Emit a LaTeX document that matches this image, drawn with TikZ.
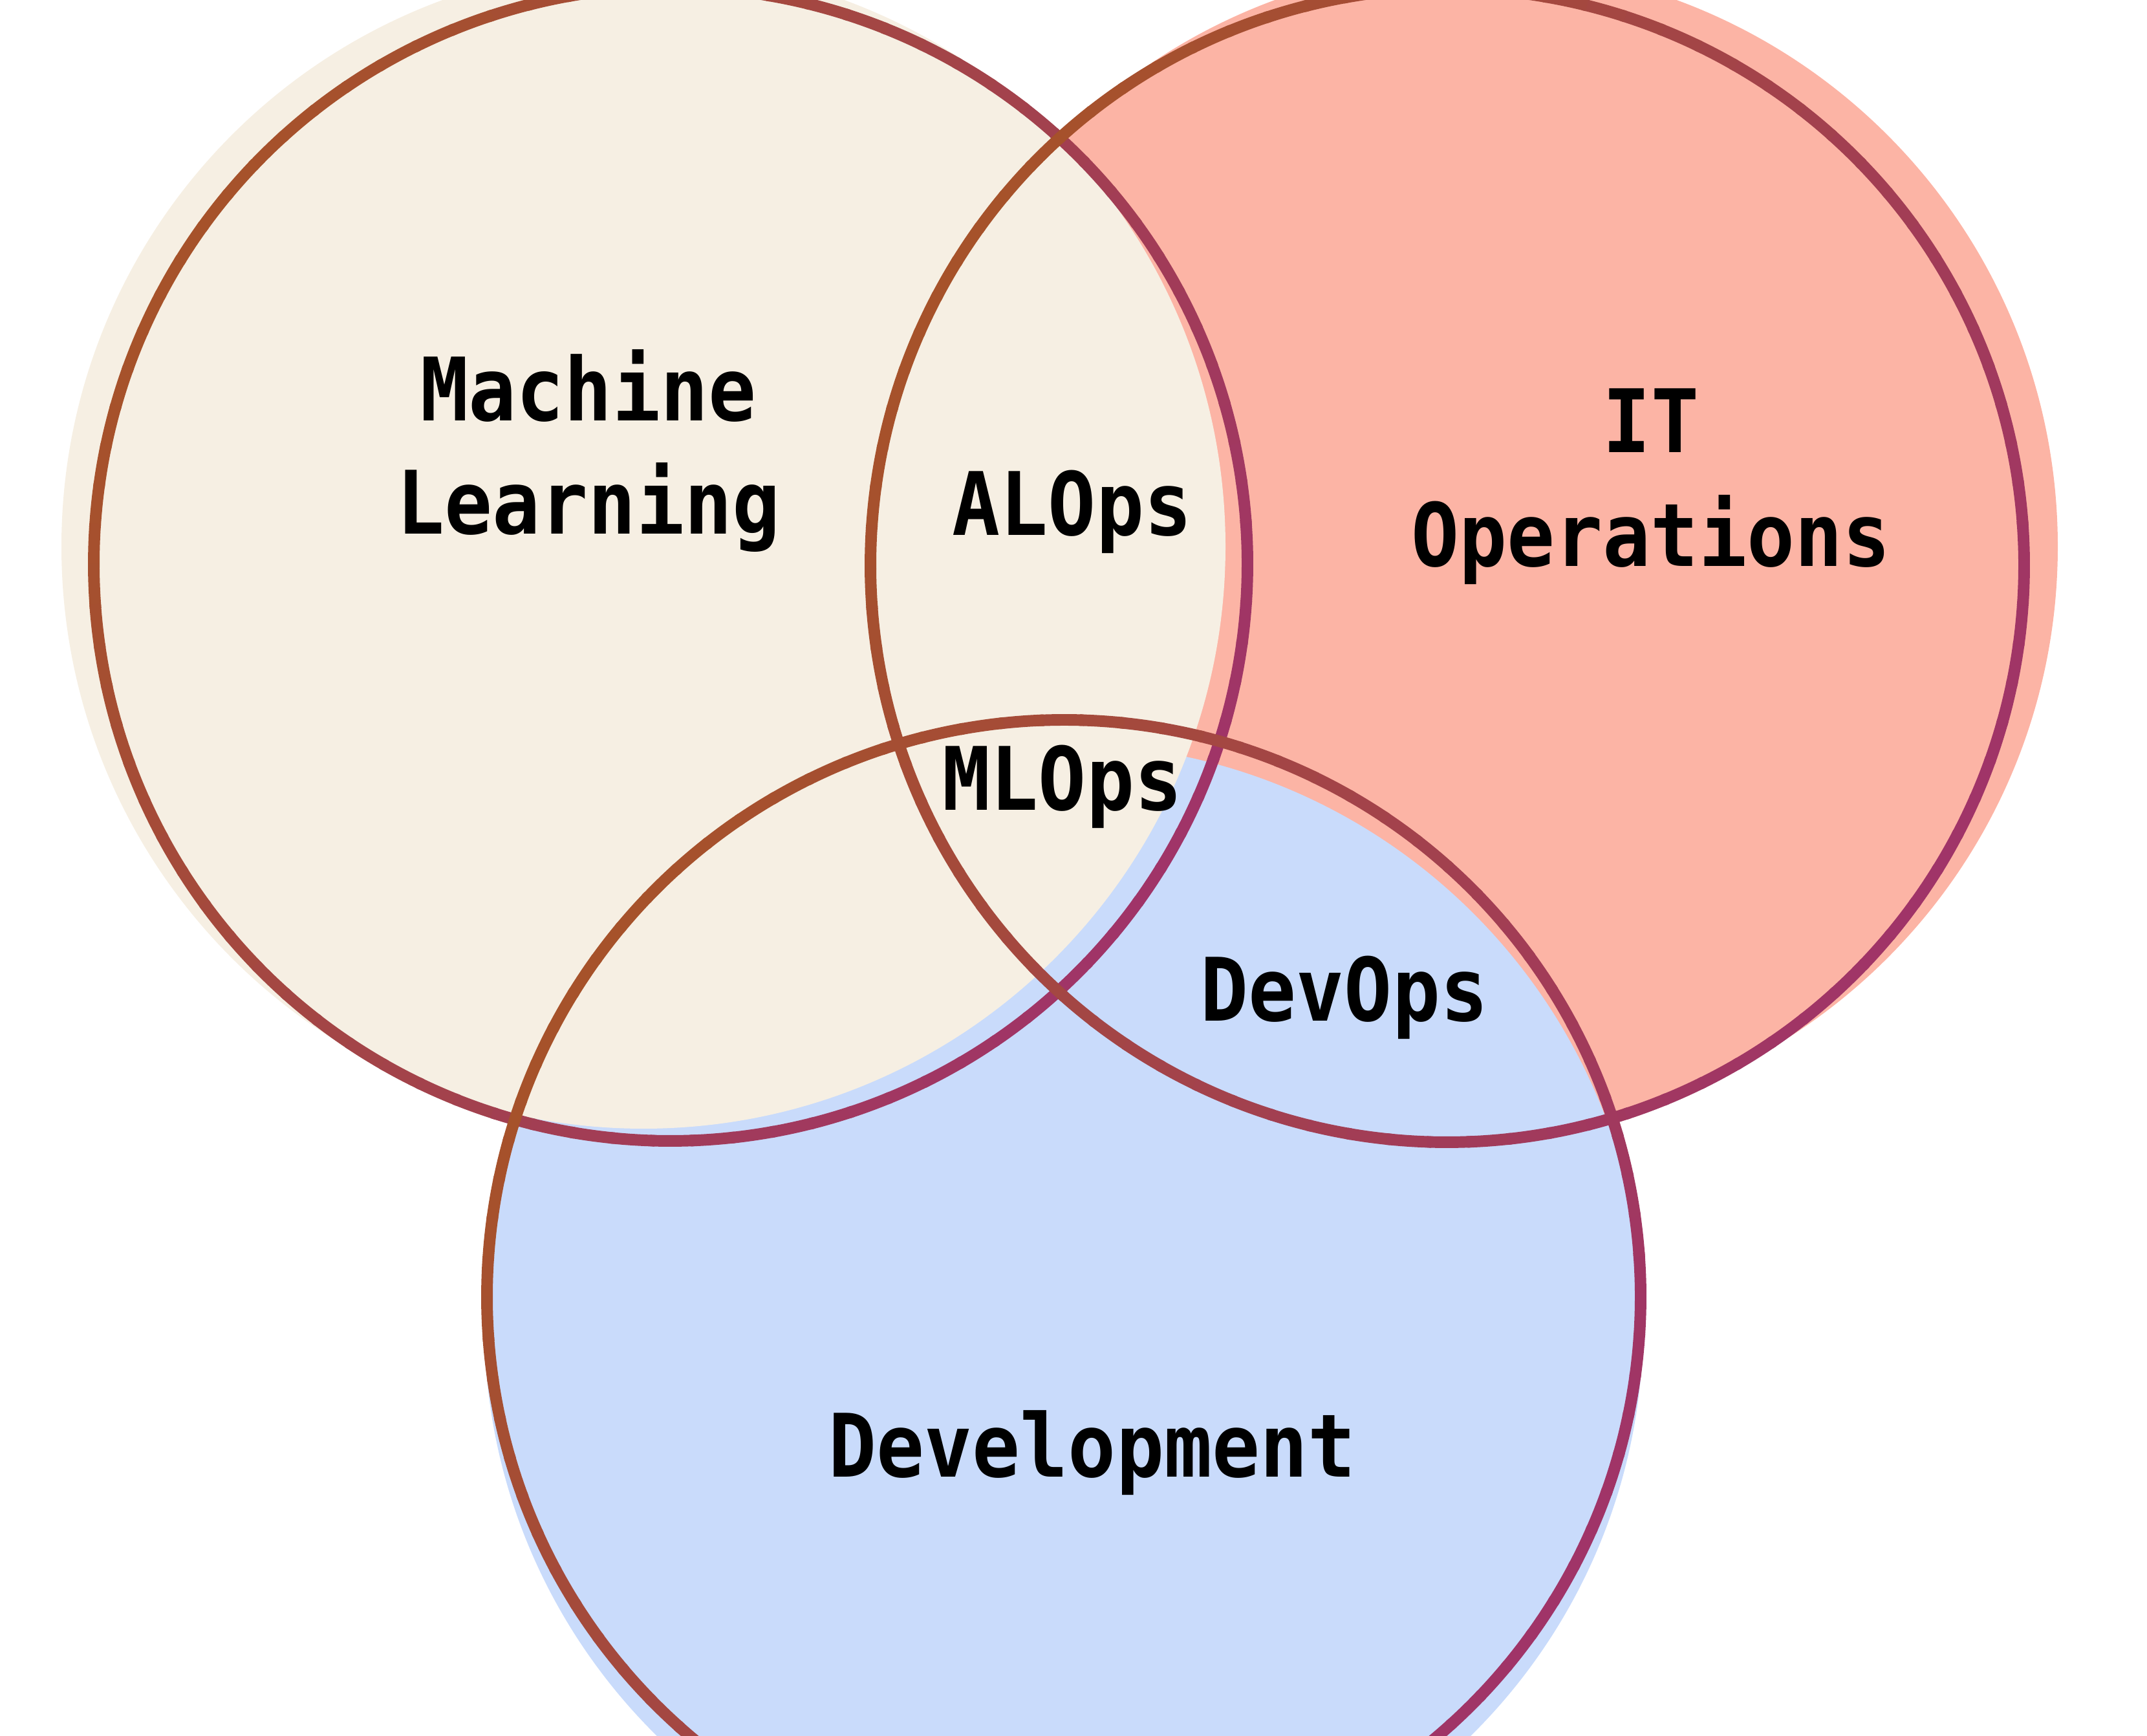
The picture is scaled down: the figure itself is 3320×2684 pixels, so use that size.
\documentclass[tikz,border=0pt]{standalone}
\usepackage{fontspec}
\setmonofont{DejaVu Sans Mono}

\definecolor{mlfill}{HTML}{F6EFE3}
\definecolor{itfill}{HTML}{FCB4A5}
\definecolor{devfill}{HTML}{C9DBFB}
\definecolor{rimbrown}{HTML}{A6522A}
\definecolor{rimplum}{HTML}{A03468}
\newcommand{\tallword}[1]{\scalebox{1}[1.1]{#1}}

\begin{document}
\begin{tikzpicture}[x=0.01cm, y=0.01cm,
    lbl/.style={inner sep=0pt, align=center, font=\fontsize{35}{50}\selectfont\ttfamily\bfseries},
    rim/.style={line width=5.1pt}]
    \useasboundingbox (0,0) rectangle (3320,2684);
    \clip (0,0) rectangle (3320,2684);
    % discs, a bit off the rims
    \fill[itfill] (2282,1839) circle[radius=900];
    \fill[devfill] (1645,638) circle[radius=896];
    \fill[mlfill] (995,1839) circle[radius=900];
    % rims, brown at top left to plum at bottom right
    \coordinate (ml) at (1037,1812);
    \coordinate (it) at (2238,1810);
    \coordinate (dev) at (1645,679);
    \foreach \c in {ml,it,dev}
      \foreach \a in {0,4,...,356} {
        \pgfmathsetmacro\t{50+50*cos(\a+2-150)}
        \draw[rim, rimbrown!\t!rimplum] (\c) ++(\a:892) arc[start angle=\a, delta angle=4.4, radius=892];
      }
    \node[lbl] (ml label) at (910,1987) {\tallword{Machine}\\\tallword{Learning}};
    \node[lbl] (it label) at (2553,1932) {\tallword{IT}\\\tallword{Operations}};
    \node[lbl, anchor=base] (al label) at (1658,1856) {\tallword{ALOps}};
    \node[lbl, anchor=base] (mlops label) at (1643,1431) {\tallword{MLOps}};
    \node[lbl, anchor=base] (devops label) at (2079,1105) {\tallword{DevOps}};
    \node[lbl, anchor=base] (dev label) at (1689,400) {\tallword{Development}};
\end{tikzpicture}
\end{document}
